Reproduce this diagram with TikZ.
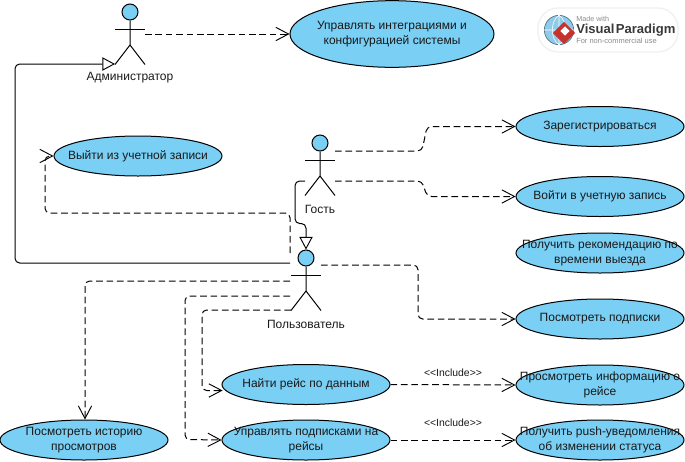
\documentclass[tikz,border=0pt]{standalone}
\usepackage{fontspec}
\setmainfont{Liberation Sans}
\usetikzlibrary{shapes.geometric,arrows.meta}
\definecolor{ucfill}{HTML}{7ACFF5}
\definecolor{logogrey}{HTML}{8C8C8C}
\definecolor{logodark}{HTML}{3A3A3A}
\definecolor{logored}{HTML}{C8322D}
\definecolor{logoblue}{HTML}{8FCBEA}
\tikzset{
  every node/.style={font=\fontsize{9}{10.9}\selectfont},
  uc/.style={draw=black,fill=ucfill,ellipse,inner sep=0pt,line width=.75pt,minimum width=126pt,minimum height=30pt},
  uctext/.style={align=center,inner sep=0pt,text=black!90},
  actorhead/.style={circle,draw=black,fill=ucfill,inner sep=0pt,minimum size=12pt,line width=.75pt},
  actorline/.style={line width=.75pt,draw=black},
  actorlabel/.style={inner sep=0pt,text=black!90},
  dep/.style={line width=.75pt,dash pattern=on 5pt off 2.8pt,rounded corners=3.5pt,-{Straight Barb[length=9.5pt,width=10pt,line width=.7pt]}},
  gen/.style={line width=.75pt,rounded corners=3.5pt,-{Triangle[open,length=9.5pt,width=10pt,line width=.7pt,fill=white]}},
  inc/.style={font=\fontsize{7.8}{9}\selectfont,inner sep=0pt,text=black!90},
}
% #1 name, #2 x, #3 y of head centre, #4 label
\newcommand{\umlactor}[4]{%
  \node[actorhead] (#1) at (#2,#3) {};
  \coordinate (#1-arm) at (#2,#3+17);
  \coordinate (#1-hip) at (#2,#3+33);
  \coordinate (#1-ll) at (#2-15,#3+52.5);
  \coordinate (#1-lr) at (#2+15,#3+52.5);
  \draw[actorline] (#1.south) -- (#1-hip) -- (#1-ll);
  \draw[actorline] (#1-hip) -- (#1-lr);
  \draw[actorline] (#2-15,#3+17) -- (#2+15,#3+17);
  \node[actorlabel] (#1-label) at (#2,#3+66) {#4};
}
\begin{document}
\begin{tikzpicture}[x=0.75pt,y=-0.75pt]
\useasboundingbox (0,0) rectangle (685,461);

% logo
\node[draw=black!6,fill=white,rounded corners=15pt,line width=1pt,minimum width=105pt,minimum height=33pt,inner sep=0pt] (logo) at (608,30) {};
\node[circle,draw=black!45!logoblue,fill=logoblue,minimum size=22pt,inner sep=0pt,line width=.5pt] (globe) at (559,30) {};
\draw[white,line width=.4pt] (globe.north) -- (globe.south) (globe.west) -- (globe.east)
  (globe.north) .. controls (550,22) and (550,38) .. (globe.south)
  (globe.north) .. controls (568,22) and (568,38) .. (globe.south);
\node[diamond,fill=logored,minimum size=17pt,inner sep=0pt] (logomark) at (564,33) {};
\node[diamond,fill=white,minimum size=7pt,inner sep=0pt] (logomarkb) at (565,31) {};
\node[inner sep=0pt,anchor=west,text=logogrey,font=\fontsize{5.4}{6}\selectfont] (logoa) at (576,19) {Made with};
\node[inner sep=0pt,anchor=west,text=logodark,font=\fontsize{9.8}{11}\bfseries\selectfont] (logob) at (576,30) {Visual\hspace{1pt}Paradigm};
\node[inner sep=0pt,anchor=west,text=logogrey,font=\fontsize{5.6}{6}\selectfont] (logoc) at (576,41) {For non-commercial use};

\umlactor{admin}{130}{12}{Администратор}
\umlactor{guest}{320}{143}{Гость}
\umlactor{user}{306}{258}{Пользователь}

% use cases
\node[uc,minimum width=153pt,minimum height=50pt,label={[uctext]center:{Управлять интеграциями и\\конфигурацией системы}}] (manage) at (392,34) {};
\node[uc,label={[uctext]center:{Выйти из учетной записи}}] (logout) at (138,156) {};
\node[uc,label={[uctext]center:{Зарегистрироваться}}] (reg) at (600,126.5) {};
\node[uc,label={[uctext]center:{Войти в учетную запись}}] (login) at (600,196.5) {};
\node[uc,label={[uctext]center:{Получить рекомендацию по\\времени выезда}}] (rec) at (600,253) {};
\node[uc,label={[uctext]center:{Посмотреть подписки}}] (subs) at (600,319) {};
\node[uc,label={[uctext]center:{Просмотреть информацию о\\рейсе}}] (info) at (600,385) {};
\node[uc,label={[uctext]center:{Получить push-уведомления\\об изменении статуса}}] (push) at (600,440) {};
\node[uc,label={[uctext]center:{Найти рейс по данным}}] (find) at (306,384.5) {};
\node[uc,label={[uctext]center:{Управлять подписками на\\рейсы}}] (manage2) at (306,440) {};
\node[uc,label={[uctext]center:{Посмотреть историю\\просмотров}}] (hist) at (84,440) {};

% free ends beside the actors
\coordinate (adminOut) at (145,34);
\coordinate (adminGen) at (115,64);
\coordinate (guestA) at (335,151);
\coordinate (guestB) at (335,181);
\coordinate (guestC) at (305,181);
\coordinate (userA) at (290,263);
\coordinate (userB) at (290,253);
\coordinate (userC) at (321,265);
\coordinate (userD) at (290,281);
\coordinate (userE) at (290,296);
\coordinate (userF) at (291,310);

\draw[dep] (adminOut) -- (manage.west |- adminOut);
\draw[gen] (userA) -- (15,263) -- (15,64) -- (adminGen);
\draw[dep] (guestA) -- (422,151) -- (427,126.5) -- (reg.west);
\draw[dep] (guestB) -- (422,181) -- (427,196.5) -- (login.west);
\draw[gen] (guestC) -- (295,181) -- (295,223.5) -- (306,223.5) -- (user.north);
\draw[dep] (userB) -- (290,213) -- (45,213) -- (45,156) -- (logout.west);
\draw[dep] (userC) -- (418,265) -- (418,319) -- (subs.west);
\draw[dep] (userD) -- (85,281) -- (hist.north -| 85,420);
\draw[dep] (userE) -- (185,296) -- (185,439.5) -- (manage2.west);
\draw[dep] (userF) -- (202,310) -- (202,390.5) -- (222.6,390.5);
\draw[dep] (find.east) -- (info.west) node[inc,midway,above=6pt] (inca) {<{}<Include>{}>};
\draw[dep] (manage2.east) -- (push.west) node[inc,midway,above=9.5pt] (incb) {<{}<Include>{}>};
\end{tikzpicture}
\end{document}
